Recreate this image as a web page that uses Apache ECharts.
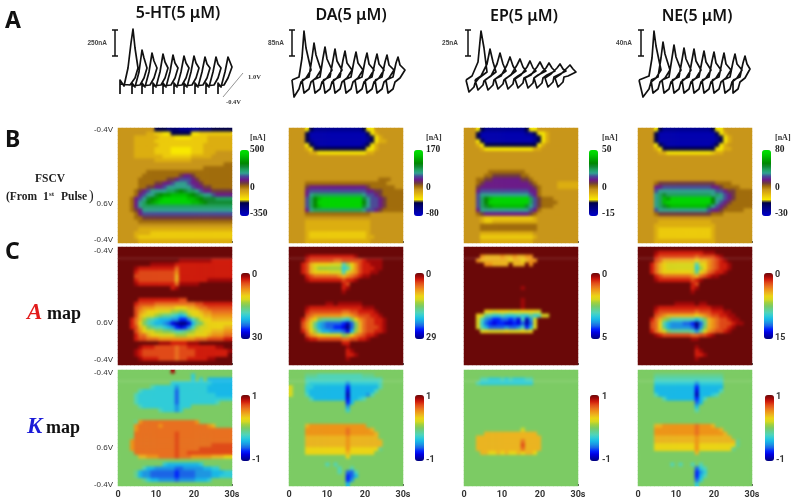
<!DOCTYPE html>
<html><head><meta charset="utf-8">
<style>html,body{margin:0;padding:0;background:#fff}#c,#o{position:absolute;left:0;top:0;width:800px;height:502px}#c{filter:blur(0.55px)}#o{filter:blur(1.6px)}</style>
<script src="https://cdn.jsdelivr.net/npm/echarts@6/dist/echarts.min.js"></script>
</head><body><div id="c"></div><div id="o"></div>
<script>
// ---------- tick labels / titles ----------
const compounds = ['5-HT(5 μM)','DA(5 μM)','EP(5 μM)','NE(5 μM)'];
const timeTicks = [0,10,20,30];
const scaleNames = ['250nA','85nA','25nA','40nA'];
const fscvRange = [[-350,500],[-80,170],[-15,50],[-30,80]];
const aMax = [30,29,5,15];
const kRange = [-1,1];

// ---------- panel A traces: [time, current] ----------
const trace5HT = [[10,4],[10,18],[14,12],[18,30],[21,55],[23,69],[25,50],[28,30],[25,20],[20,13],[10,14],null,
[22,4],[22,15],[25,11],[29,26],[32,48],[34,40],[37,30],[34,20],[30,13],[22,12],null,
[32,4],[32,15],[35,11],[39,26],[42,45],[44,37],[47,30],[44,20],[40,13],[32,12],null,
[43,4],[43,15],[46,11],[50,26],[53,44],[55,36],[58,30],[55,20],[51,13],[43,12],null,
[53,4],[53,15],[56,11],[60,26],[63,43],[65,35],[68,30],[65,20],[61,13],[53,12],null,
[64,4],[64,15],[67,11],[71,26],[74,42],[76,35],[79,30],[76,20],[72,13],[64,12],null,
[74,4],[74,15],[77,11],[81,26],[84,42],[86,35],[89,30],[86,20],[82,13],[74,12],null,
[85,4],[85,15],[88,11],[92,26],[95,41],[97,34],[100,30],[97,20],[93,13],[85,12],null,
[96,4],[96,15],[99,11],[103,26],[106,41],[108,34],[111,30],[108,20],[104,13],[96,12],null,
[108,4],[108,15],[111,11],[115,26],[118,41],[120,36],[122,31],[118,20],[114,13],[108,12]];
const traceDA = [[5,18],[12,21],[15,40],[17,67],[19,50],[24,28],[19,20],[14,16],[12,9],[7,1],[5,18],null,
[15,18],[22,21],[25,40],[27,55],[29,43],[34,28],[29,20],[24,16],[22,9],[17,5],[15,18],null,
[26,18],[33,21],[36,40],[38,51],[40,39],[45,28],[40,20],[35,16],[33,9],[28,5],[26,18],null,
[36,18],[43,21],[46,38],[48,49],[50,37],[55,28],[50,20],[45,16],[43,9],[38,5],[36,18],null,
[46,18],[53,21],[56,38],[58,47],[60,35],[65,28],[60,20],[55,16],[53,9],[48,5],[46,18],null,
[57,18],[64,21],[67,37],[69,46],[71,35],[76,28],[71,20],[66,16],[64,9],[59,5],[57,18],null,
[68,18],[75,21],[78,37],[80,45],[82,34],[87,28],[82,20],[77,16],[75,9],[70,5],[68,18],null,
[78,18],[85,21],[88,36],[90,44],[92,34],[97,28],[92,20],[87,16],[85,9],[80,5],[78,18],null,
[88,18],[95,21],[98,36],[100,43],[102,33],[107,28],[102,20],[97,16],[95,9],[90,5],[88,18],null,
[99,18],[106,21],[109,35],[111,41],[113,33],[118,28],[113,20],[108,16],[106,9],[101,5],[99,18]];
const traceEP = [[6,18],[12,22],[18,36],[21,67],[24,50],[27,26],[19,20],[15,15],[14,11],[9,6],[6,18],null,
[15,18],[21,22],[27,34],[30,49],[33,36],[36,26],[28,20],[24,17],[23,13],[18,8],[15,18],null,
[25,18],[31,22],[37,34],[40,45],[43,34],[46,27],[38,21],[34,18],[33,13],[28,8],[25,18],null,
[35,19],[41,22],[47,33],[50,41],[53,32],[56,27],[48,21],[44,18],[43,14],[38,9],[35,19],null,
[45,19],[51,23],[57,33],[60,39],[63,31],[66,27],[58,22],[54,19],[53,14],[48,9],[45,19],null,
[55,19],[61,23],[67,31],[70,37],[73,30],[76,27],[68,22],[64,20],[63,15],[58,10],[55,19],null,
[65,20],[71,23],[77,31],[80,36],[83,30],[86,27],[78,23],[74,20],[73,15],[68,10],[65,20],null,
[74,20],[80,24],[86,30],[89,35],[92,30],[95,27],[87,23],[83,20],[82,15],[77,10],[74,20],null,
[85,20],[91,24],[97,30],[100,34],[103,29],[106,27],[98,23],[94,21],[93,16],[88,11],[85,20],null,
[95,20],[101,24],[107,30],[110,33],[113,29],[116,26],[108,22],[104,21],[103,16],[98,11],[95,20]];
const traceNE = [[5,18],[15,22],[18,40],[20,67],[22,52],[27,28],[22,20],[17,16],[15,9],[9,1],[5,18],null,
[17,18],[24,21],[27,40],[29,56],[31,44],[36,28],[31,20],[26,16],[24,9],[19,5],[17,18],null,
[28,18],[35,21],[38,40],[40,53],[42,41],[47,28],[42,20],[37,16],[35,9],[30,5],[28,18],null,
[38,18],[45,21],[48,38],[50,50],[52,39],[57,28],[52,20],[47,16],[45,9],[40,5],[38,18],null,
[48,18],[55,21],[58,38],[60,49],[62,37],[67,28],[62,20],[57,16],[55,9],[50,5],[48,18],null,
[58,18],[65,21],[68,37],[70,47],[72,36],[77,28],[72,20],[67,16],[65,9],[60,5],[58,18],null,
[68,18],[75,21],[78,37],[80,46],[82,35],[87,28],[82,20],[77,16],[75,9],[70,5],[68,18],null,
[78,18],[85,21],[88,36],[90,45],[92,34],[97,28],[92,20],[87,16],[85,9],[80,5],[78,18],null,
[89,18],[96,21],[99,36],[101,44],[103,34],[108,28],[103,20],[98,16],[96,9],[91,5],[89,18],null,
[99,18],[106,21],[109,35],[111,42],[113,34],[116,29],[111,20],[106,16],[104,9],[99,5],[99,18]];
const bar5HT = [[2,68],[8,68],null,[5,68],[5,42],null,[2,42],[8,42]];
const barDA = [[2,68],[8,68],null,[5,68],[5,42],null,[2,42],[8,42]];
const barEP = [[5,68],[11,68],null,[8,68],[8,42],null,[5,42],[11,42]];
const barNE = [[4,68],[10,68],null,[7,68],[7,42],null,[4,42],[10,42]];
const voltageGuide = [[113,1],[133,25]];

// ---------- heat-map level rows (one char per cell, alphabet below; a short row repeats its last char) ----------
const levelChars = '0123456789abcdefghijk';
const fscv5HT = ['8888 8888 8444 3332 2222 3334 4444','8888 8887 7665 5444 4455 6666 6666','8888 7777 7766 6655 5566 6677 7777','8888 7777 7666 6666 6666 6677 7777','8888 7777 7766 6666 6666 6777 7777','8888 7777 7666 6555 5566 6777 7777','8888 7777 7666 6555 5566 6777 8888','8888 7777 7776 6666 6677 7778 8888','8888 8888 8777 7777 7788 8888 8888','8888 8888 8888 8888 8888 8888 8899','8888 8888 8888 8888 8888 8999 9999','8888 8889 9999 9999 9999 9999 9999','8888 8899 9999 999a bba9 9999 9999','8888 8999 9999 aabc ccba 9999 9999','8888 8999 9aab bcdd dcbb a999 9999','8888 899a abbc dddd ddcb baa9 9999','8888 9abc dddd eefg feed cbba aaaa','8888 9bcd dfgh hiii ihgf eddc bbbb','8889 bcdf ghij jjjj jiih gfff eeee','8889 bdeg hijj jjjj jjii hgff ffff','8889 bdee eeee eeee eeee eeee eeee','8889 abdd dddd dddd dddd dddd dddd','8888 9bcc cccc cccc cccc cccc cccc','8888 99aa aaaa aaaa aaaa aaaa aaaa','8888 8999 9999 9999 9999 9999 9999','8','8888 8777 7777 7777 7777 7777 7777','8888 7777 6666 6666 6666 6666 6666','8888 7666 6666 6666 6666 6666 6666','8888 8777 7777 7777 7777 7777 7777'];
const fscvDA = ['8888 5422 2222 2222 2245 58','8888 4111 1111 1111 1114 5788 8','8888 4111 1111 1111 1112 4578 8','8888 4211 1111 1111 1112 4577 8','8888 5421 1111 1111 1124 5788 8','8888 7544 4444 4444 4445 5788 8','8888 8775 5555 5555 5557 7888 8','8','8','8','8','8','8','8888 8888 8888 8888 8888 8899 9888','8888 9999 9999 9999 9999 9999 8888','8888 abbb bbbb bbbb bbba 9999 9988','8888 bccc cccc cccc cccb baa9 9999','8888 bdee eeee eeee eedc cba9 9999','8888 cegi jjjj jjjj jjfd ccba 9999','8888 cegj jjjj jjjj jjgd ccba 9999','8888 cegi jjjj jjjj jjfd ccba 9999','8888 bdee eeee eeee eedc cba9 9999','8888 9999 9999 9999 9999 8','8','8888 7777 7777 7777 7777 8','8888 7777 7777 7777 7777 8','8888 7777 7777 7777 7777 8','8888 7666 6666 6666 6667 8','8888 7666 6666 6666 6667 7888 8','8888 7777 7777 7777 7777 8'];
const fscvEP = ['8885 4222 2222 2224 5588 8','8884 1111 1111 1112 2455 7888 8','8884 1111 1111 1111 1245 7888 8','8885 4111 1111 1111 1245 7888 8','8887 5444 4444 4444 4457 8','8888 7555 5555 5555 5778 8','8','8','8','8','8','8888 8899 9999 9998 8','8888 899a aaaa aa99 8','8889 9aab bbbb bbaa 9888 8','8889 abbb bbbb bbbb a988 8887 7777','888a bbbb bbbb bbbb ba98 8887 7777','888b cccc cccc cccc bb98 8','888c dddd dddd dddd cb98 8','888c egij jjjj jjjj eca9 9988 8','888c egjj jjjj jjjj eca9 9998 8','888c efhi iiii iiif dca9 9988 8','888b dddd dddd dddd cb98 8','8889 abbb bbbb bbbb a988 8','8888 7666 6666 6666 6788 8','8888 7667 7777 7777 7788 8','8888 9999 9999 9999 9988 8','8888 9999 9999 9999 9988 8','8888 7777 7777 7777 7888 8','8888 6666 6666 6666 6788 8','8888 7777 7777 7777 7888 8'];
const fscvNE = ['8888 5422 2222 2222 2245 58','8888 4111 1111 1111 1114 5788 8','8888 4111 1111 1111 1112 4578 8','8888 4111 1111 1111 1112 4578 8','8888 5421 1111 1111 1124 5788 8','8888 7544 4444 4444 4445 5778 8','8888 8775 5555 5555 5567 7888 8','8','8','8','8','8','8','8','8888 9aaa aaaa aaaa aaa9 9998 8','8888 bbcc cccc cccc ccbb a999 9888','8888 cddd dddd dddd dddc cbaa 9999','8888 defe eeee eeee eede dcba 9999','8888 deih jjjj jjjj jjgd dcba 9999','8888 deij jjjj jjjj jjgd cba9 9999','8888 defh iiii iiii ifdc ba99 9999','8888 cddd dddd dddd dcbb a999 9988','8888 9aaa aaaa aaaa aa99 9888 8','8','8888 8777 7777 7777 7788 8','8888 7777 7777 7777 7778 8','8888 7666 6666 6666 6678 8','8888 7666 6666 6666 6678 8','8888 7666 6666 6666 6678 8','8888 7777 7777 7777 7778 8'];

const amap5HT = ['0','0','0','0000 0000 0000 0001 1111 1112 2222','0000 0000 1111 1122 2222 2222 2222','0000 1222 2222 2242 2222 2222 2222','0000 2333 3333 3352 2222 2222 2222','0000 3333 3333 3362 2222 2222 2222','0000 2333 3333 3362 2222 2211 1111','0000 1222 2222 2241 1111 0','0000 0000 0000 0210 0','0','0','0000 0222 2222 2223 3000 0','0000 2333 3444 4444 4443 3222 2222','0000 3455 5666 6677 7665 4433 3333','0000 3567 7788 899a 9877 6554 4444','0000 3678 89ab bcde d987 7665 5555','0002 469b cdee effh hfca 8776 6666','0002 47ac deef gijk kieb a877 7777','0002 368a bccd efhi hfc9 8877 7766','0000 3578 899a abcc ba98 8776 6655','0000 2446 7788 8899 9887 7765 5544','0000 2334 4455 5555 5554 4433 3322','0000 0000 0011 1222 2111 0','0000 0122 2333 3343 3222 2222 1100','0000 1233 3333 3343 3332 2222 2221','0000 1233 3333 3343 3332 2222 2220','0000 0122 2233 3343 3222 2211 0','0'];
const amapDA = ['0','0','0000 1222 2222 2222 1000 0','0000 2333 3334 4333 3321 1110 0','0002 3677 7788 8c97 5322 1110 0','0002 3689 9999 9dc8 5322 2110 0','0002 3677 7788 8c86 5322 1100 0','0000 2344 4444 5654 3211 0','0000 1222 2222 2322 1000 0','0000 0000 0000 0230 0','0000 0000 0000 0210 0','0000 0000 0000 0100 0','0','0','0000 0000 0110 1111 1100 0','0000 1222 2222 2222 2211 1000 0','0000 2333 3333 3443 3222 2100 0','0000 3455 5555 5665 4333 2210 0','0002 467a bbbb bcda 7543 3221 0','0003 58be fggg ghjg a643 3221 0','0003 58be fggh hikg a643 3321 0','0002 479c eeff fgie 9643 3221 0','0000 3567 7888 8a97 5432 2100 0','0000 1223 3333 3443 3221 0','0000 0000 0000 0220 0','0000 0000 0000 0010 0','0000 0000 0000 0021 0','0000 0000 0000 0022 1000 0','0000 0000 0000 0010 0','0'];
const amapEP = ['0','0','0000 5666 6566 5665 5000 0','0005 6666 6667 6676 5500 0','0000 0556 6660 6660 5000 0','0','0','0','0','0','0000 0000 0000 0010 0','0','0','0000 0000 0000 0010 0','0000 0000 0000 0010 0','0000 0000 0000 0010 0','0000 0778 7778 7877 7780 0','0007 8bcd dcdd dcdd bdc8 8000 0','0008 cfgh hggh gicj f800 0','0008 dghi hhii higj g800 0','0008 cegg ggfg gfch e800 0','0000 8788 8878 8878 7000 0','0','0','0','0','0','0','0','0'];
const amapNE = ['0','0000 1222 2222 2222 1110 0','0000 2333 3333 3343 3332 1000 0','0000 3466 6666 6676 6543 2100 0','0002 4678 8888 88c8 7543 2210 0','0002 4678 8888 88d9 7543 2210 0','0002 4677 7777 78b7 6432 2100 0','0000 2344 4444 4564 3211 0','0000 1222 2222 2321 0','0000 0000 0000 0230 0','0000 0000 0000 0210 0','0000 0000 0000 0100 0','0','0','0000 0000 0111 1101 1000 0','0000 1222 2222 2222 2211 1000 0','0000 2333 3333 3343 3322 2110 0','0000 3456 6666 6676 5433 2211 0','0002 469a cccc ccec a654 3321 1000 0','0003 47ce fffg ghkg b654 3332 1100 0','0003 47be ffff fgjf a654 3321 0','0002 468a bbbb bcfb 8543 3210 0','0000 1233 3333 3443 3210 0','0000 0000 0000 0110 0','0','0000 0000 0000 0010 0','0000 0000 0000 0021 0','0000 0000 0000 0022 1000 0','0000 0000 0000 0010 0','0'];

const kmap5HT = ['aaaa aaaa aaaa ajaa a','aaaa aaaa aaaa aaaa aa7a a','aaaa aaaa aaaa aaaa aa7a 7a66 6666','aaaa aaaa aaaa a777 7777 7776 6666','aaaa aaaa 8777 7757 7777 7766 6666','aaaa a877 7777 7747 7777 7766 6666','aaaa 8777 7777 7747 7777 7777 6666','aaaa 8777 7777 7747 7777 7777 7777','aaaa 8777 7777 7747 7777 7777 8aaa','aaaa a877 7777 7757 77aa a','aaaa aaaa aa87 7757 a','a','a','aaaa 9fgg gggg gggg gggf a','aaaa fggg ggfg gggg gggg ggfe a','aaaa fggg gggg gggg gggg gggg gggg','aaaa gggg gggg gghg gggg gggg gggg','aaaa gggg gggg gghg gggg gggg gggg','aaaf gggg gggg gghg gggg gggg gggg','aaaf gggg gggg gghg gggg gggh hhhh','aaaf gggg gggg gghg gggg hhhh hhhh','aaaa gggg gggg gghg ghhh hhhh hhhh','aaaa aeef ffgg gghg ggff fffe eedd','a','aaaa aaaa aaa7 6666 6666 7a','aaaa aa86 6555 5544 5555 5667 7a','aaaa 9655 4444 4434 4445 5556 6677','aaaa 9655 4444 4434 4445 5556 6777','aaaa aa97 6655 5545 5556 667a','a'];
const kmapDA = ['a','aaaa 9998 8888 8888 8899 9a','aaaa 8888 8888 8888 8888 888a','aaaa 8777 7777 7757 7777 778a','caaa 7766 6666 6636 6666 668a','caaa 7666 6666 6626 6666 68aa','caaa 8666 6666 6616 6665 8a','aaaa a866 6666 6626 678a','aaaa aaaa aaaa aa36 a','aaaa aaaa aaaa aa5a','aaaa aaaa aaaa aa7a','a','a','a','aaaa efff ffff ffff fffa','aaaa ffff ffff ffgf ffff ea','aaaa ffff ffff ffgf ffff fea','aaaa eeee eeee eefe eeee eea','aaaa eeee eeee eefe eeee eeea','aaaa eeee eeee eefe eeee eeea','aaaa dddd dddd ddfd dddd dd9a','aaaa dddd dddd dded dddd da','aaaa aaaa aaaa aada','a','aaaa aaaa a8a8 a','aaaa aaaa aaaa 8aa8 a','aaaa aaaa aaaa 8a44 8a','aaaa aaaa aaaa aa34 6a','aaaa aaaa aaaa aa35 a','aaaa aaaa aaaa aa6a'];
const kmapEP = ['a','a','aaaa 8877 7878 7778 8a','aaa8 7777 7777 7777 7a','a','a','a','a','a','a','a','a','a','a','a','aaaa aaaa aaaa aaca','aaaa aeee eeee eeee eea','aaae eeee eeee eeee eeea','aaae eeee eeee eege eeea','aaae eeee eeee eehe eeea','aaae eeee eeee eege eeea','aaaa eedd eded dede eda','a','a','a','a','a','a','a','a'];
const kmapNE = ['a','aaaa 9999 9999 9999 9999 9a','aaaa 8888 8888 8888 8888 8a','aaaa 7777 7777 7757 7777 7a','aaaa 6666 6666 6636 6666 6a','aaaa 6666 6666 6626 6666 8a','aaaa 8666 6666 6616 6678 a','aaaa aa86 6666 6636 8a','aaaa aaaa aaaa aa46 a','aaaa aaaa aaaa aa6a','aaaa aaaa aaaa aa8a','a','a','a','aaaa eeff ffff ffgf ffea','aaaa ffff ffff ffgf ffff ea','aaaa ffff ffff ffgf ffff fea','aaaa eeee eeee eefe eeee eeea','aaaa eeee eeee eefe eeee eeee 9a','aaaa dddd dddd ddfd dddd dddd 9a','aaaa dddd dddd ddfd dddd ddd9 a','aaaa aaaa aaaa aaea','a','a','aaaa aaaa 8a8a a8a8 a','aaaa aaaa aaaa aa47 8a','aaaa aaaa aaaa aa35 7a','aaaa aaaa aaaa aa36 8a','aaaa aaaa aaaa aa47 a','aaaa aaaa aaaa aa7a'];

// ---------- colour maps ----------
const fscvColors = ['#0000c8','#0000b0','#000090','#000070','#000048','#f8e800','#eccb0c','#dcae10','#c8961a','#a06c0c','#6f3a40','#6a1a8a','#4a4a9a','#30a090','#20a060','#108a30','#008800','#00a000','#00bc00','#00d400','#00e000'];
const jetColors = ['#00007f','#0000b0','#0000e0','#0020ff','#1a64e8','#1c94e4','#18b8e8','#30ccd8','#50d4b8','#64d090','#7ccb64','#a0d040','#d8d820','#ecd414','#ecb420','#ee9418','#e87020','#e04a18','#d01c0c','#a00808','#6a0808'];

// ---------- layout ----------
const colX = [118,289,464,638], panelW = 114;
const rowBox = {F:[128,115], A:[247,118], K:[370,116]};
const rowBg = {F:'#c8961a', A:'#6a0808', K:'#7ccb64'};
const voltTicks = {F:[0.05,1.85,2.73], A:[0.09,1.81,2.68], K:[0.07,1.88,2.78]};
const barX = {F:[240,414,589,762], A:[241,415,591,764], K:[241,415,590,765]};
const barY = {F:150, A:273, K:395};
const cycleMax = 2.8;
const nCols = 28, nRows = 30;
const timeCats = Array.from({length:nCols},(_,i)=>String(i));
const rowCats = Array.from({length:nRows},(_,i)=>String(i));

function toCells(rows, lo, hi){
  const out=[];
  rows.forEach((r,y)=>{
    let s=r.replace(/ /g,''); while(s.length<nCols) s+=s[s.length-1];
    for(let x=0;x<nCols;x++){ out.push([x,y,lo+levelChars.indexOf(s[x])/20*(hi-lo)]); }
  });
  return out;
}
const grid=[],xAxis=[],yAxis=[],series=[],visualMap=[],graphic=[];
function T(text,x,y,font,fill,align){graphic.push({type:'text',silent:true,x,y,style:{text,x:0,y:0,font,fill:fill||'#222',textAlign:align||'left',textVerticalAlign:'middle'}});}

function addPanel(kind,c,rows,lo,hi,colors,inverse){
  const [top,h]=rowBox[kind], g=grid.length;
  grid.push({left:colX[c],top,width:panelW,height:h,show:true,backgroundColor:rowBg[kind],borderWidth:0});
  const bottom = kind==='K';
  xAxis.push({gridIndex:g,type:'category',data:timeCats,show:false});
  const xv=xAxis.length;
  xAxis.push({gridIndex:g,type:'value',min:0,max:30,interval:10,position:'bottom',
    axisLine:{show:false},splitLine:{show:false},
    axisTick:{show:true,inside:true,length:2,lineStyle:{color:'#555',width:1}},
    axisLabel:{show:bottom,margin:4,fontFamily:'Roboto',fontWeight:'bold',fontSize:9,color:'#333',
      formatter:v=>v===30?'30s':String(v)}});
  yAxis.push({gridIndex:g,type:'category',data:rowCats,inverse:true,show:false,position:'left'});
  const yv=yAxis.length;
  yAxis.push({gridIndex:g,type:'value',min:0,max:cycleMax,inverse:true,position:'left',
    axisLine:{show:false},axisTick:{show:false},splitLine:{show:false},
    axisLabel:{show:c===0,margin:5,fontSize:8,fontFamily:'Liberation Sans',color:'#333',
      customValues:voltTicks[kind],formatter:v=>(v>1&&v<2.3)?'0.6V':'-0.4V'}});
  const si=series.length;
  series.push({type:'heatmap',xAxisIndex:xv-1,yAxisIndex:yv-1,data:toCells(rows,lo,hi),silent:true,progressive:0,animation:false,emphasis:{disabled:true}});
  series.push({type:'line',xAxisIndex:xv,yAxisIndex:yv,data:kind==='F'?[]:[[0,0.27],[30,0.27]],symbol:'none',silent:true,z:5,
    lineStyle:{color:'rgba(255,255,255,0.22)',width:1}});
  visualMap.push({type:'continuous',seriesIndex:si,min:lo,max:hi,inverse,calculable:false,hoverLink:false,
    left:barX[kind][c],top:barY[kind],itemWidth:9,itemHeight:66,padding:0,orient:'vertical',
    inRange:{color:colors},textStyle:{fontSize:1,color:'transparent'}});
}
const fscvSets=[fscv5HT,fscvDA,fscvEP,fscvNE], aSets=[amap5HT,amapDA,amapEP,amapNE], kSets=[kmap5HT,kmapDA,kmapEP,kmapNE];
const jetRev=jetColors.slice().reverse();
for(let c=0;c<4;c++){
  addPanel('F',c,fscvSets[c],fscvRange[c][0],fscvRange[c][1],fscvColors,false);
  addPanel('A',c,aSets[c],0,aMax[c],jetRev,true);
  addPanel('K',c,kSets[c],kRange[0],kRange[1],jetColors,false);
}
const panelGrids=grid.length, panelXAxes=xAxis.length, panelYAxes=yAxis.length, panelSeries=series.length;
// soft copy of the heat maps laid over the panels
let clipPath='';
colX.forEach(x=>Object.values(rowBox).forEach(([t,h])=>{clipPath+=`M${x} ${t}h${panelW}v${h}h-${panelW}Z `;}));
const overlayEl=document.getElementById('o');
overlayEl.style.clipPath=`path('${clipPath}')`;
const overlayOption={animation:false,grid:grid.slice(0,panelGrids),xAxis:xAxis.slice(0,panelXAxes),yAxis:yAxis.slice(0,panelYAxes),series:series.slice(0,panelSeries),
  visualMap:visualMap.map(v=>Object.assign({},v,{show:false})),tooltip:{show:false}};

// traces
const traceLeft=[110,287,460,634];
[trace5HT,traceDA,traceEP,traceNE].forEach((tr,i)=>{
  const g=grid.length;
  grid.push({left:traceLeft[i],top:28,width:140,height:70});
  xAxis.push({gridIndex:g,type:'value',min:0,max:140,show:false});
  yAxis.push({gridIndex:g,type:'value',min:0,max:70,show:false});
  const xi=xAxis.length-1, yi=yAxis.length-1;
  series.push({type:'line',xAxisIndex:xi,yAxisIndex:yi,data:tr,symbol:'none',silent:true,clip:false,connectNulls:false,animation:false,
    lineStyle:{color:'#111',width:1.7,join:'round'}});
  series.push({type:'line',xAxisIndex:xi,yAxisIndex:yi,data:[bar5HT,barDA,barEP,barNE][i],symbol:'none',silent:true,clip:false,animation:false,
    lineStyle:{color:'#111',width:1.5}});
  if(i===0) series.push({type:'line',xAxisIndex:xi,yAxisIndex:yi,data:voltageGuide,symbol:'none',silent:true,clip:false,animation:false,
    lineStyle:{color:'#777',width:0.8}});
});

// texts
const titleX=[178,351,524,697], titleY=[13,15,16,16];
compounds.forEach((t,i)=>T(t,titleX[i],titleY[i],'600 16px "Noto Sans"','#111','center'));
T('A',5,21,'bold 23px "Noto Sans"','#111'); T('B',5,140,'bold 23px "Noto Sans"','#111'); T('C',5,252,'bold 23px "Noto Sans"','#111');
const sbX=[107,284,458,632];
scaleNames.forEach((t,i)=>T(t,sbX[i],43,'bold 6.5px "Liberation Sans"','#444','right'));
T('1.0V',248,77,'bold 6.5px "Liberation Serif"','#333'); T('-0.4V',226,102,'bold 6.5px "Liberation Serif"','#333');
const serif11='bold 11.5px "Liberation Serif"';
T('FSCV',50,179,serif11,'#222','center');
T('(From',6,197,serif11); T('1',43,197,serif11); T('st',49,194,'bold 7px "Liberation Serif"'); T('Pulse',61,197,serif11); T(')',89,196,'14px "Liberation Serif"');
T('A',27,313,'italic bold 23px "Liberation Serif"','#e21b1b'); T('map',47,314,'bold 18px "Liberation Serif"','#111');
T('K',27,427,'italic bold 23px "Liberation Serif"','#1a1ad8'); T('map',46,428,'bold 18px "Liberation Serif"','#111');
const fLab=[['500','0','-350'],['170','0','-80'],['50','0','-15'],['80','0','-30']];
const fLabX=[250,426,602,775];
fLab.forEach((l,i)=>{
  T('[nA]',fLabX[i],138,'bold 8px "Liberation Serif"','#333');
  T(l[0],fLabX[i],150,'bold 9.5px "Liberation Serif"','#222');
  T(l[1],fLabX[i],188,'bold 9.5px "Liberation Serif"','#222');
  T(l[2],fLabX[i],214,'bold 9.5px "Liberation Serif"','#222');
});
const sideX=[252,426,602,775], kSideX=[252,426,602,776];
aMax.forEach((m,i)=>{
  T('0',sideX[i],275,'bold 9px Roboto','#333'); T(String(m),sideX[i],338,'bold 9px Roboto','#333');
  T('1',kSideX[i],397,'bold 9px Roboto','#333'); T('-1',kSideX[i],460,'bold 9px Roboto','#333');
});

const chart=echarts.init(document.getElementById('c'),null,{width:800,height:502});
chart.setOption({animation:false,backgroundColor:'#fff',grid,xAxis,yAxis,series,visualMap,graphic:{elements:graphic},tooltip:{show:false}});
const overlay=echarts.init(overlayEl,null,{width:800,height:502});
overlay.setOption(overlayOption);
</script></body></html>
